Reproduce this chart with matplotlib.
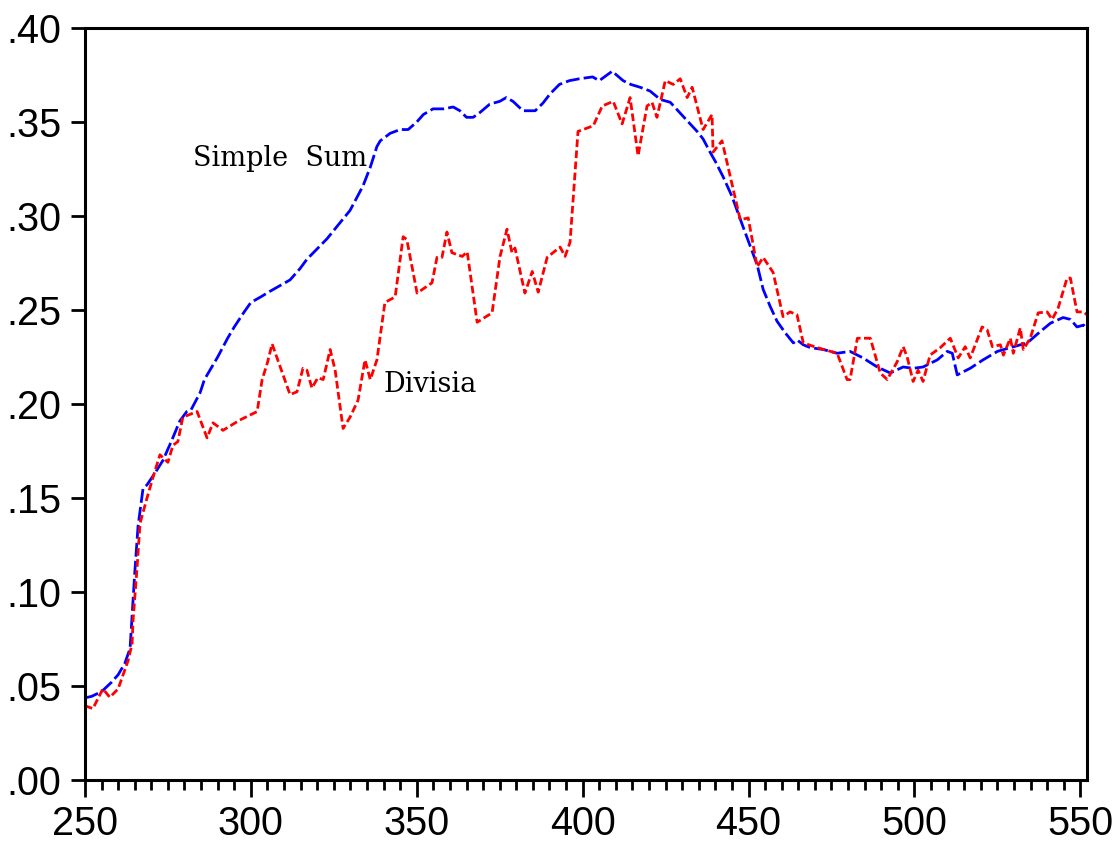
import matplotlib
matplotlib.use("Agg")
import matplotlib.pyplot as plt
from matplotlib.ticker import MultipleLocator, FuncFormatter

# Simple Sum series
ss_x = [250, 252, 255, 258, 260, 262, 263.6, 265, 266, 267.5, 268.7, 271, 273.5, 276, 278.6,
        280.7, 282, 284.7, 286, 288, 290, 293, 295, 298, 300, 303, 305.8, 308.8, 311.8, 314.8,
        316.9, 320.8, 323, 326.9, 329.9, 333.8, 336, 338, 339, 342, 345, 347.4, 350, 352, 354.9,
        358, 361, 363, 365, 367, 369, 372, 375, 377, 379, 382, 385.7, 388, 390.2, 393, 396, 399,
        403, 405, 408.9, 412.2, 414.5, 417.3, 420.3, 423.4, 426.4, 430.3, 434.5, 436.3, 438.4,
        440, 442.3, 445, 448.4, 450.5, 452.6, 454.4, 456.5, 458.6, 461, 463.5, 464.7, 466.5,
        468.6, 472.5, 476.7, 480.6, 484.5, 488.8, 492.7, 496.6, 499.6, 502.6, 506.9, 509.9,
        511.4, 512.9, 516.8, 520.7, 525, 528.9, 534, 537.9, 541, 544.8, 547, 549, 551, 552]
ss_y = [0.0437, 0.0445, 0.047, 0.052, 0.056, 0.062, 0.070, 0.110, 0.135, 0.155, 0.157, 0.163,
        0.170, 0.180, 0.191, 0.196, 0.197, 0.206, 0.213, 0.219, 0.225, 0.235, 0.241, 0.249,
        0.254, 0.257, 0.260, 0.263, 0.266, 0.272, 0.277, 0.284, 0.288, 0.2965, 0.303, 0.316,
        0.326, 0.337, 0.340, 0.344, 0.346, 0.346, 0.350, 0.354, 0.357, 0.357, 0.358, 0.356,
        0.3525, 0.3525, 0.355, 0.3595, 0.361, 0.363, 0.361, 0.356, 0.356, 0.360, 0.365, 0.370,
        0.372, 0.373, 0.374, 0.372, 0.377, 0.372, 0.370, 0.3685, 0.3665, 0.362, 0.3605, 0.353,
        0.345, 0.341, 0.334, 0.329, 0.321, 0.3105, 0.294, 0.284, 0.274, 0.261, 0.252, 0.244,
        0.238, 0.2325, 0.234, 0.2315, 0.230, 0.229, 0.227, 0.228, 0.2245, 0.2197, 0.2165,
        0.2197, 0.219, 0.2197, 0.2235, 0.228, 0.227, 0.2155, 0.219, 0.2235, 0.228, 0.230,
        0.2325, 0.2385, 0.243, 0.246, 0.245, 0.241, 0.242, 0.2395]

# Divisia series
dv_x = [250, 252.4, 255.4, 257.5, 260, 263, 264.2, 264.5, 265.7, 266.6, 268.7, 270.5, 272.6,
        273.2, 275, 276.5, 278, 279.5, 283.8, 286.8, 288.6, 291.6, 296.7, 301.9, 303.4, 305,
        306.4, 308.8, 311.8, 313.9, 315.7, 316.9, 318.4, 320.2, 321.8, 323.9, 325.4, 327.8,
        329.9, 332.3, 334.4, 336, 338, 340.4, 343.5, 345.9, 347, 350.1, 354.6, 356.1, 357.6,
        359.1, 360.6, 363.7, 365.2, 368.2, 372.7, 375.1, 377.2, 378.7, 379.6, 382.6, 384.8,
        386.6, 389.3, 393.2, 394.7, 396.2, 398.6, 403.2, 405.9, 409.2, 411.9, 414.3, 416.7,
        419.4, 420.9, 422.4, 424.9, 427.3, 429.4, 431.5, 433, 436.3, 439, 439.3, 442, 444.5,
        447.5, 449.9, 452.6, 454.4, 457.4, 460.4, 462.5, 464.6, 466.5, 470.7, 476.7, 479.7,
        480.6, 482.8, 486.7, 489.7, 491.8, 494.8, 496.6, 497.8, 499.6, 501.1, 502.6, 504.7,
        507.8, 510.8, 513.2, 515.3, 516.8, 520.4, 521.9, 523.5, 525.9, 526.8, 528.9, 529.8,
        531.9, 532.8, 534.9, 537.3, 540, 541.5, 543.3, 546, 547, 549, 551, 552]
dv_y = [0.0395, 0.038, 0.0485, 0.044, 0.0485, 0.0635, 0.0725, 0.085, 0.113, 0.1365, 0.150,
        0.161, 0.173, 0.172, 0.169, 0.178, 0.180, 0.193, 0.196, 0.182, 0.190, 0.186, 0.1915,
        0.196, 0.213, 0.222, 0.232, 0.220, 0.205, 0.2065, 0.219, 0.218, 0.2085, 0.214, 0.213,
        0.229, 0.218, 0.187, 0.193, 0.202, 0.2235, 0.213, 0.2235, 0.254, 0.257, 0.289, 0.2875,
        0.259, 0.2645, 0.278, 0.278, 0.2915, 0.2805, 0.2785, 0.281, 0.2435, 0.2485, 0.2785,
        0.293, 0.2805, 0.283, 0.259, 0.2705, 0.2595, 0.278, 0.2835, 0.2785, 0.286, 0.345,
        0.348, 0.3585, 0.361, 0.349, 0.363, 0.332, 0.3585, 0.3605, 0.3525, 0.372, 0.370,
        0.373, 0.363, 0.3685, 0.346, 0.354, 0.334, 0.340, 0.321, 0.298, 0.299, 0.273, 0.278,
        0.270, 0.2465, 0.249, 0.2475, 0.2325, 0.230, 0.227, 0.213, 0.213, 0.235, 0.235,
        0.2165, 0.213, 0.2225, 0.2305, 0.225, 0.212, 0.218, 0.212, 0.226, 0.230, 0.235,
        0.2245, 0.2305, 0.2245, 0.241, 0.2395, 0.2305, 0.2315, 0.226, 0.235, 0.227, 0.2405,
        0.229, 0.235, 0.2485, 0.249, 0.245, 0.251, 0.267, 0.267, 0.249, 0.249, 0.2475]

plt.rcParams['lines.scale_dashes'] = False
plt.rcParams['font.family'] = ['Liberation Sans', 'DejaVu Sans']

fig = plt.figure(figsize=(11.12, 8.44), dpi=100)
ax = fig.add_axes([0.0764, 0.0758, 0.9011, 0.8910])

ax.plot(ss_x, ss_y, color='#0000ff', lw=2.0, dashes=(10, 3))
ax.plot(dv_x, dv_y, color='#ff0000', lw=2.0, dashes=(5.5, 2.5))

# labels inside the plot, serif like the original
ax.text(282.6, 0.3264, "Simple  Sum", family='DejaVu Serif', fontsize=19.5, va='baseline', ha='left')
ax.text(340.1, 0.2064, "Divisia", family='DejaVu Serif', fontsize=19.5, va='baseline', ha='left')

ax.set_xlim(250, 552)
ax.set_ylim(0, 0.40)
ax.xaxis.set_major_locator(MultipleLocator(50))
ax.xaxis.set_minor_locator(MultipleLocator(5))
ax.yaxis.set_major_locator(MultipleLocator(0.05))
ax.yaxis.set_major_formatter(FuncFormatter(lambda v, p: f"{v:.2f}".replace("0.", ".", 1)))

for s in ax.spines.values():
    s.set_linewidth(2.2)

ax.tick_params(axis='both', which='major', direction='out', width=2, labelsize=28.5)
ax.tick_params(axis='x', which='major', length=12, pad=6)
ax.tick_params(axis='x', which='minor', direction='out', length=7, width=2)
ax.tick_params(axis='y', which='major', length=10, pad=7)
ax.tick_params(top=False, right=False, which='both')

fig.savefig("out.png", dpi=100)
